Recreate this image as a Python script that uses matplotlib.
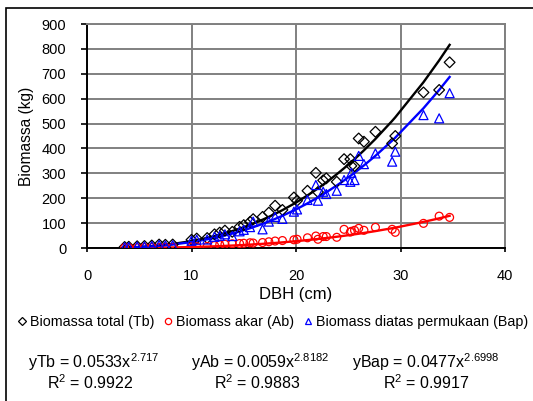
import numpy as np
import matplotlib
matplotlib.use("Agg")
import matplotlib.pyplot as plt
from matplotlib.patches import Rectangle
from matplotlib.lines import Line2D

plt.rcParams['font.family'] = ['Liberation Sans', 'DejaVu Sans']
plt.rcParams['mathtext.fontset'] = 'custom'
plt.rcParams['mathtext.rm'] = 'Liberation Sans'
plt.rcParams['mathtext.it'] = 'Liberation Sans'

# DBH (cm)
dbh = [3.6, 4.0, 4.8, 5.5, 6.2, 6.9, 7.5, 8.2, 10.0, 10.5, 11.5, 12.2, 12.7, 13.2,
       13.9, 14.6, 15.0, 15.6, 15.9, 16.8, 17.4, 18.0, 18.7, 19.8, 20.1, 21.1,
       21.9, 22.1, 22.6, 22.9, 23.9, 24.6, 25.2, 25.3, 25.6, 26.0, 26.5, 27.6,
       29.2, 29.5, 32.2, 33.7, 34.7]
# Biomassa total (Tb)
tb = [4, 5, 7, 8, 10, 14, 13, 14, 33, 38, 40, 55, 62, 70,
      65, 85, 92, 105, 116, 125, 142, 170, 153, 203, 190, 230,
      302, 225, 272, 280, 266, 357, 357, 330, 329, 440, 427, 467,
      420, 450, 625, 635, 746]
# Biomass akar (Ab)
ab = [1, 1, 1, 2, 2, 2, 3, 3, 4, 5, 6, 10, 13, 15,
      17, 18, 19, 21, 20, 22, 25, 28, 30, 33, 35, 41,
      48, 35, 46, 46, 43, 75, 64, 67, 71, 79, 71, 83,
      75, 63, 99, 128, 123]
# Biomass diatas permukaan (Bap)
bap = [3, 4, 6, 6, 8, 12, 10, 11, 29, 33, 34, 45, 49, 55,
       48, 67, 73, 84, 106, 75, 106, 125, 117, 146, 155, 193,
       253, 190, 226, 217, 230, 273, 266, 302, 273, 370, 337, 380,
       347, 387, 534, 521, 622]

# power trend coefficients
coef_tb, exp_tb = 0.0533, 2.717
coef_ab, exp_ab = 0.0059, 2.8182
coef_bap, exp_bap = 0.0477, 2.6998

x = np.array(dbh)
fig = plt.figure(figsize=(5.33, 4.01), dpi=100)
ax = fig.add_axes([87/533, 1-248/401, (505-87)/533, (248-24)/401])

ax.plot(x, coef_tb * x**exp_tb, color='black', lw=1.7, zorder=3)
ax.plot(x, coef_ab * x**exp_ab, color='red', lw=1.7, zorder=3)
ax.plot(x, coef_bap * x**exp_bap, color='blue', lw=1.7, zorder=3)

ax.scatter(x, tb, marker='D', s=30, facecolors='none', edgecolors='black', linewidths=0.9, zorder=4)
ax.scatter(x, ab, marker='o', s=32, facecolors='none', edgecolors='red', linewidths=0.9, zorder=4)
ax.scatter(x, bap, marker='^', s=42, facecolors='none', edgecolors='blue', linewidths=0.9, zorder=4)

ax.set_xlim(0, 40)
ax.set_ylim(0, 900)
ax.set_xticks([0, 10, 20, 30, 40])
ax.set_yticks(range(0, 901, 100))
ax.grid(True, color='#808080', lw=1.4)
ax.set_axisbelow(True)
for s in ['top', 'right']:
    ax.spines[s].set_color('#808080')
    ax.spines[s].set_linewidth(1.4)
for s in ['left', 'bottom']:
    ax.spines[s].set_color('black')
    ax.spines[s].set_linewidth(1.4)
ax.tick_params(axis='y', direction='out', length=4, width=1.2, pad=11, labelsize=10.5)
ax.tick_params(axis='x', direction='out', length=3, width=1.2, pad=12, labelsize=10.5)

ax.set_xlabel('DBH (cm)', fontsize=12)
ax.xaxis.set_label_coords(0.5, (1-294/401 - (1-248/401)) / ((248-24)/401))
ax.xaxis.label.set_va('center')
ax.set_ylabel('Biomassa (kg)', fontsize=11.2)
ax.yaxis.set_label_coords((27-87)/418, 0.5)
ax.yaxis.label.set_va('center')

handles = [
    Line2D([], [], marker='D', ls='none', mfc='none', mec='black', ms=4, mew=0.9),
    Line2D([], [], marker='o', ls='none', mfc='none', mec='red', ms=4.5, mew=0.9),
    Line2D([], [], marker='^', ls='none', mfc='none', mec='blue', ms=5, mew=0.9),
]
labels = ['Biomassa total (Tb)', 'Biomass akar (Ab)', 'Biomass diatas permukaan (Bap)']
fig.legend(handles, labels, loc='center', bbox_to_anchor=(273/533, 1-322/401), ncol=3,
           frameon=False, fontsize=10.3, handlelength=0.6, handletextpad=0.25,
           columnspacing=0.66, borderaxespad=0, borderpad=0)

eqs = [(94, 'yTb = 0.0533x$^{2.717}$', 90, 'R$^2$ = 0.9922'),
       (260, 'yAb = 0.0059x$^{2.8182}$', 257, 'R$^2$ = 0.9883'),
       (426, 'yBap = 0.0477x$^{2.6998}$', 426, 'R$^2$ = 0.9917')]
for xe, te, xr, tr in eqs:
    fig.text(xe/533, 1-362/401, te, ha='center', va='center', fontsize=11.5)
    fig.text(xr/533, 1-383/401, tr, ha='center', va='center', fontsize=11.5)

fig.patches.append(Rectangle((6/533, -0.05), 1.1, 1-8/401+0.05, transform=fig.transFigure,
                             fill=False, edgecolor='black', lw=1.2))

fig.savefig('out.png', dpi=100)
